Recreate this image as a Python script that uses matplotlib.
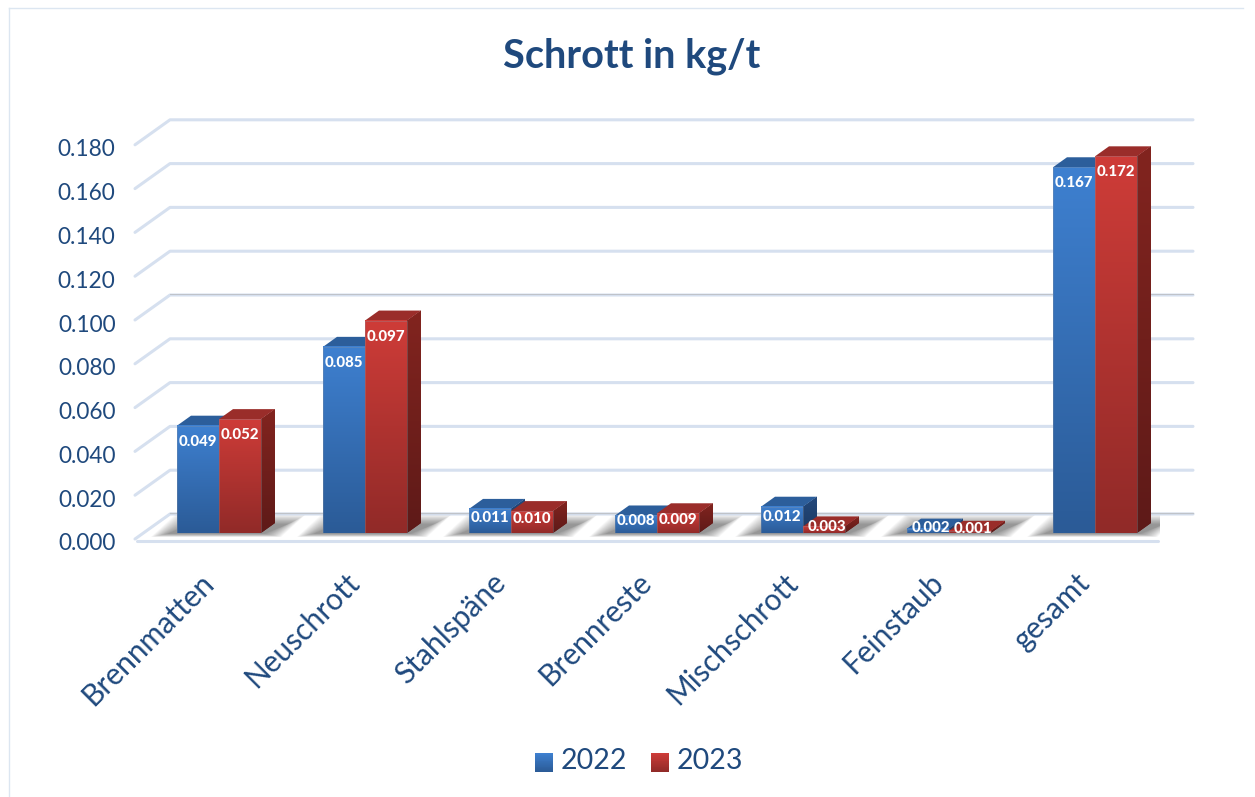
import numpy as np
import matplotlib
matplotlib.use("Agg")
import matplotlib.pyplot as plt
from matplotlib.colors import to_rgb
from matplotlib.legend_handler import HandlerBase
from matplotlib.lines import Line2D
from matplotlib.patches import Patch, Polygon, Rectangle
from matplotlib.transforms import ScaledTranslation

plt.rcParams["font.family"] = ["Lato", "DejaVu Sans"]

categories = ["Brennmatten", "Neuschrott", "Stahlspäne", "Brennreste", "Mischschrott", "Feinstaub", "gesamt"]
values_2022 = [0.049, 0.085, 0.011, 0.008, 0.012, 0.002, 0.167]
values_2023 = [0.052, 0.097, 0.010, 0.009, 0.003, 0.001, 0.172]
years = ["2022", "2023"]
yticks = [0.0, 0.02, 0.04, 0.06, 0.08, 0.10, 0.12, 0.14, 0.16, 0.18]

W, H = 1255, 797
TEXT = "#1F497D"
GRID = "#D6E0EF"
PX_X = 1 / 146    # one pixel in category units
PX_Y = 1 / 2190   # one pixel in kg/t

# front_top, front_bottom, side_top, side_bottom, top face
BLUE = ("#3E80D0", "#2B5B97", "#24497C", "#1B3A63", "#2C5E9B")
RED = ("#CE3C38", "#912A28", "#82241F", "#5E1A18", "#9A2D2A")

BAR_W = 42 * PX_X
DEPTH_X = 14 * PX_X
DEPTH_Y = 10 * PX_Y
BASE = 6 * PX_Y


def gradient(c_top, c_bot):
    a, b = np.array(to_rgb(c_top)), np.array(to_rgb(c_bot))
    t = np.linspace(0, 1, 64)[:, None, None]
    return a + (b - a) * t


def shaded_poly(ax, pts, c_top, c_bot, z):
    pts = np.array(pts)
    ext = (pts[:, 0].min(), pts[:, 0].max(), pts[:, 1].min(), pts[:, 1].max())
    im = ax.imshow(gradient(c_top, c_bot), extent=ext, aspect="auto", origin="upper",
                   interpolation="bilinear", zorder=z)
    poly = Polygon(pts, closed=True, transform=ax.transData)
    im.set_clip_path(poly)


def draw_bars(ax, xs, vals, cols, z):
    tops = BASE + np.array(vals)
    for x, top in zip(xs, tops):
        x1 = x + BAR_W
        ax.add_patch(Polygon([(x1, BASE), (x1 + DEPTH_X, BASE + DEPTH_Y),
                              (x1 + DEPTH_X, top + DEPTH_Y), (x1, top)], closed=True,
                             fc=cols[3], ec="none", zorder=z))
        shaded_poly(ax, [(x1, BASE), (x1 + DEPTH_X, BASE + DEPTH_Y),
                         (x1 + DEPTH_X, top + DEPTH_Y), (x1, top)], cols[2], cols[3], z)
        ax.add_patch(Polygon([(x, top), (x1, top), (x1 + DEPTH_X, top + DEPTH_Y),
                              (x + DEPTH_X, top + DEPTH_Y)], closed=True,
                             fc=cols[4], ec="none", zorder=z))
        ax.imshow(gradient(cols[0], cols[1]), extent=(x, x1, BASE, top), aspect="auto",
                  origin="upper", interpolation="bilinear", zorder=z)
    ax.bar(xs, vals, BAR_W, bottom=BASE, align="edge", fc="none", ec=(0.55, 0.58, 0.63, 0.45), lw=0.5, zorder=z)


def draw_labels(ax, xs, vals):
    for x, v in zip(xs, vals):
        h_px = v / PX_Y
        down = min(16, h_px / 2 - 3)
        shift = 3 * PX_X if h_px < 10 else 0
        ax.text(x + BAR_W / 2 + shift, BASE + v - down * PX_Y, f"{v:.3f}", color="white",
                fontsize=10.8, fontweight="black", ha="center", va="center", zorder=20)


class GradientSquare(HandlerBase):
    def __init__(self, c_top, c_bot):
        super().__init__()
        self.c_top, self.c_bot = c_top, c_bot

    def create_artists(self, legend, orig_handle, xdescent, ydescent, width, height, fontsize, trans):
        out = []
        size = 13.5
        grad = gradient(self.c_top, self.c_bot)[::3, 0, :]
        n = len(grad)
        for i, c in enumerate(grad):
            y0 = size * (1 - (i + 1) / n) - 2.0
            out.append(Rectangle((width - size, y0), size, size / n + 0.1, fc=c, ec="none", transform=trans))
        return out


fig = plt.figure(figsize=(W / 100, H / 100), dpi=100, facecolor="white")
ax = fig.add_axes([135 / W, 1 - 539 / H, (1160 - 135) / W, (539 - 101) / H])
ax.patch.set_alpha(0)
for s in ax.spines.values():
    s.set_visible(False)

pos = np.arange(len(categories))
xmin, xmax = -84 * PX_X, 941 * PX_X

# walls and floor
back_x = xmin + 35 * PX_X
right_x = xmax + 33 * PX_X
for v in yticks:
    ax.plot([xmin, back_x, right_x], [v, v + 25 * PX_Y, v + 25 * PX_Y], color=GRID, lw=2.2,
            clip_on=False, solid_capstyle="round", zorder=1)
ax.plot([back_x, right_x], [26.5 * PX_Y] * 2, color="#BFC3C9", lw=0.9, clip_on=False, zorder=1)
for v in yticks[5:6]:
    ax.plot([back_x, right_x], [v + 26.5 * PX_Y] * 2, color="#BFC3C9", lw=0.7, clip_on=False, zorder=1)
ax.plot([xmin + 2 * PX_X, xmax - 2 * PX_X], [-2 * PX_Y] * 2, color=GRID, lw=2.2, clip_on=False,
        solid_capstyle="round", zorder=1)

# soft floor shadows
for p in pos:
    for k in range(18):
        g = 18 - k
        ax.add_patch(Polygon([(p + (-50 - g) * PX_X, (2 + k * 0.2) * PX_Y),
                              (p + (44 + g) * PX_X, (2 + k * 0.2) * PX_Y),
                              (p + (68 + g) * PX_X, (24 - k * 0.55) * PX_Y),
                              (p + (-26 - g) * PX_X, (24 - k * 0.55) * PX_Y)],
                             closed=True, fc="#303030", ec="none", alpha=0.034, zorder=2))

draw_bars(ax, pos - BAR_W, values_2022, BLUE, 5)
draw_bars(ax, pos, values_2023, RED, 6)
draw_labels(ax, pos - BAR_W, values_2022)
draw_labels(ax, pos, values_2023)

ax.set_xlim(xmin, xmax)
ax.set_ylim(0, 0.2)
ax.set_yticks(yticks)
ax.set_yticklabels([f"{v:.3f}" for v in yticks], fontsize=16.3, color=TEXT)
ax.set_xticks(pos)
ax.set_xticklabels(categories, fontsize=21.5, color=TEXT, rotation=45, ha="right", va="top",
                   rotation_mode="anchor")
ax.tick_params(axis="both", length=0)
ax.tick_params(axis="y", pad=14)
ax.tick_params(axis="x", pad=21)
for lab in ax.get_yticklabels():
    lab.set_transform(lab.get_transform() + ScaledTranslation(0, -3 / 100, fig.dpi_scale_trans))
for lab in ax.get_xticklabels():
    lab.set_transform(lab.get_transform() + ScaledTranslation(-20 / 100, 0, fig.dpi_scale_trans))

fig.text(632 / W, 1 - 56.5 / H, "Schrott in kg/t", fontsize=28.5, fontweight="bold", color=TEXT,
         ha="center", va="center")

h = [Patch(label=years[0]), Patch(label=years[1])]
fig.legend(handles=h, labels=years, ncol=2, frameon=False, loc="center",
           bbox_to_anchor=(639 / W, 1 - 761 / H), fontsize=20.5, labelcolor=TEXT,
           handlelength=0.66, handletextpad=0.26, columnspacing=0.82,
           handler_map={h[0]: GradientSquare(BLUE[0], BLUE[1]), h[1]: GradientSquare(RED[0], RED[1])})

# chart frame
for xs, ys in [((9, 1243), (8, 8)), ((9, 9), (8, 797))]:
    fig.add_artist(Line2D([x / W for x in xs], [1 - y / H for y in ys], color="#DCE6F1", lw=1))

fig.savefig("out.png", dpi=100)
